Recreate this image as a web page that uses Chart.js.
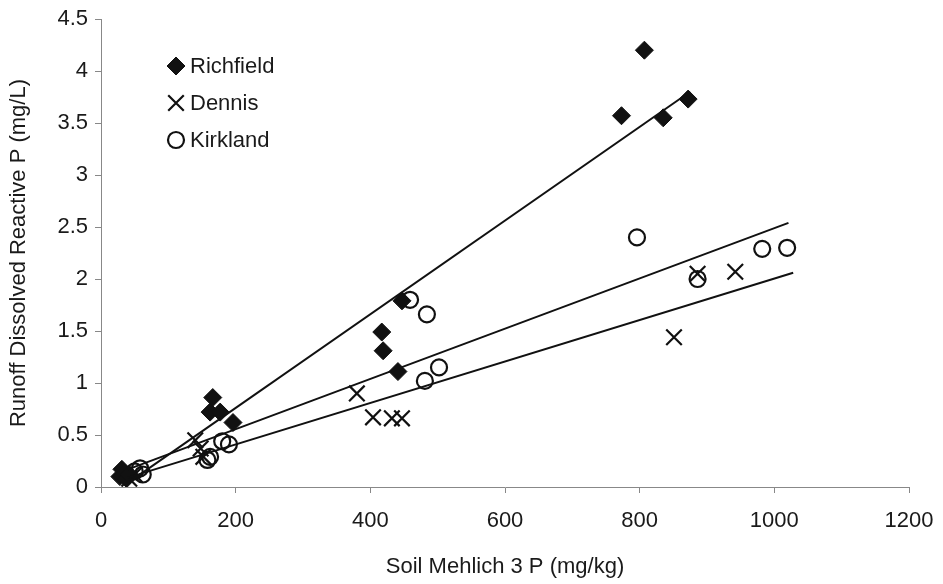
<!DOCTYPE html>
<html>
<head>
<meta charset="utf-8">
<script src="https://cdn.jsdelivr.net/npm/chart.js@4"></script>
<style>
  html, body { margin: 0; padding: 0; background: #fff; }
  #wrap { width: 943px; height: 584px; }
</style>
</head>
<body>
<div id="wrap"><canvas id="c" width="943" height="584"></canvas></div>
<script>
// values
const richfieldX = [28, 31, 35, 38, 42, 162, 166, 177, 196, 417, 419, 441, 447, 773, 807, 835, 872];
const richfieldY = [0.10, 0.17, 0.13, 0.08, 0.12, 0.72, 0.86, 0.72, 0.62, 1.49, 1.31, 1.11, 1.79, 3.57, 4.20, 3.55, 3.73];

const dennisX = [42, 50, 140, 148, 152, 380, 404, 432, 447, 851, 886, 942];
const dennisY = [0.08, 0.12, 0.45, 0.37, 0.29, 0.90, 0.67, 0.66, 0.66, 1.44, 2.05, 2.07];

const kirklandX = [50, 58, 62, 158, 162, 180, 190, 459, 484, 481, 502, 796, 886, 982, 1019];
const kirklandY = [0.15, 0.18, 0.12, 0.26, 0.29, 0.44, 0.41, 1.80, 1.66, 1.02, 1.15, 2.40, 2.00, 2.29, 2.30];

// trend line end points
const richfieldFitX = [40, 875];
const richfieldFitY = [0.04, 3.80];
const kirklandFitX = [40, 1021];
const kirklandFitY = [0.17, 2.54];
const dennisFitX = [40, 1028];
const dennisFitY = [0.09, 2.06];

const xTicks = [0, 200, 400, 600, 800, 1000, 1200];
const yTicks = [0, 0.5, 1, 1.5, 2, 2.5, 3, 3.5, 4, 4.5];

const pts = (xs, ys) => xs.map((x, i) => ({ x, y: ys[i] }));

const font = { family: "'Liberation Sans', Arial, sans-serif", size: 22 };

const legendItems = [
  { label: 'Richfield', style: 'rectRot', radius: 9, fill: '#111', lw: 1 },
  { label: 'Dennis', style: 'crossRot', radius: 11, fill: 'transparent', lw: 2.2 },
  { label: 'Kirkland', style: 'circle', radius: 8, fill: 'transparent', lw: 2.2 }
];

const insideLegend = {
  id: 'insideLegend',
  afterDraw(chart) {
    const ctx = chart.ctx;
    const area = chart.chartArea;
    ctx.save();
    ctx.font = font.size + 'px ' + font.family;
    ctx.textBaseline = 'middle';
    legendItems.forEach((it, i) => {
      const y = area.top + 47 + i * 37;
      const x = area.left + 75;
      ctx.strokeStyle = '#111';
      ctx.fillStyle = it.fill;
      ctx.lineWidth = it.lw;
      Chart.helpers.drawPoint(ctx, { pointStyle: it.style, radius: it.radius, borderWidth: it.lw }, x, y);
      ctx.fillStyle = '#1a1a1a';
      ctx.fillText(it.label, x + 14, y + 1);
    });
    ctx.restore();
  }
};

const fitLine = (xs, ys) => ({
  type: 'line',
  data: pts(xs, ys),
  borderColor: '#111',
  borderWidth: 2,
  pointRadius: 0,
  fill: false,
  showLine: true
});

new Chart(document.getElementById('c'), {
  type: 'scatter',
  data: {
    datasets: [
      fitLine(richfieldFitX, richfieldFitY),
      fitLine(kirklandFitX, kirklandFitY),
      fitLine(dennisFitX, dennisFitY),
      {
        label: 'Richfield',
        data: pts(richfieldX, richfieldY),
        pointStyle: 'rectRot',
        pointRadius: 9,
        backgroundColor: '#111',
        borderColor: '#111',
        borderWidth: 1
      },
      {
        label: 'Dennis',
        data: pts(dennisX, dennisY),
        pointStyle: 'crossRot',
        pointRadius: 11,
        borderColor: '#111',
        borderWidth: 2.2
      },
      {
        label: 'Kirkland',
        data: pts(kirklandX, kirklandY),
        pointStyle: 'circle',
        pointRadius: 8,
        backgroundColor: 'transparent',
        borderColor: '#111',
        borderWidth: 2.2
      }
    ]
  },
  options: {
    responsive: false,
    animation: false,
    layout: { padding: { top: 19, right: 34, left: 0, bottom: 0 } },
    plugins: { legend: { display: false }, tooltip: { enabled: false } },
    scales: {
      x: {
        type: 'linear',
        min: 0,
        max: 1200,
        afterBuildTicks: s => { s.ticks = xTicks.map(v => ({ value: v })); },
        afterFit: s => { s.height = 97; s.paddingLeft = 0; s.paddingRight = 0; },
        border: { color: '#888', width: 1 },
        grid: { drawOnChartArea: false, drawTicks: true, tickLength: 6, color: '#888' },
        ticks: { color: '#1a1a1a', font, padding: 15, maxRotation: 0, callback: v => String(v) },
        title: { display: true, text: 'Soil Mehlich 3 P (mg/kg)', color: '#1a1a1a', font, padding: { top: 10 } }
      },
      y: {
        type: 'linear',
        min: 0,
        max: 4.5,
        afterBuildTicks: s => { s.ticks = yTicks.map(v => ({ value: v })); },
        afterFit: s => { s.width = 101; s.paddingTop = 0; s.paddingBottom = 0; },
        border: { color: '#888', width: 1 },
        grid: { drawOnChartArea: false, drawTicks: true, tickLength: 6, color: '#888' },
        ticks: { color: '#1a1a1a', font, padding: 7, callback: v => String(v) },
        title: { display: true, text: 'Runoff Dissolved Reactive P (mg/L)', color: '#1a1a1a', font, padding: { top: 6, bottom: 4 } }
      }
    }
  },
  plugins: [insideLegend]
});
</script>
</body>
</html>
